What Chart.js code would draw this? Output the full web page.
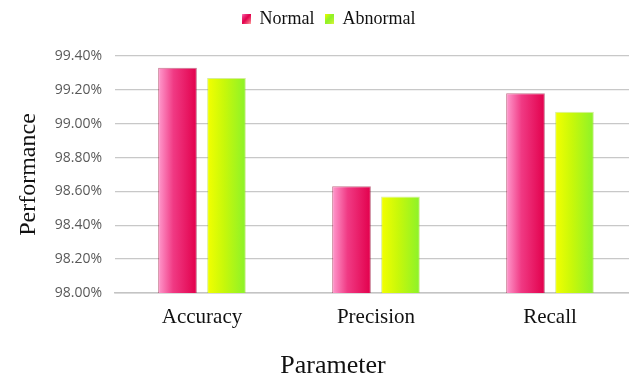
<!DOCTYPE html>
<html>
<head>
<meta charset="utf-8">
<script src="https://cdn.jsdelivr.net/npm/chart.js@4/dist/chart.umd.min.js"></script>
<style>
  html, body { margin: 0; padding: 0; background: #fff; overflow: hidden; }
  #wrap { width: 660px; height: 381px; }
</style>
</head>
<body>
<div id="wrap"><canvas id="chart" width="660" height="381"></canvas></div>
<script>
// Performance of the classifier per parameter, in percent
const categories = ['Accuracy', 'Precision', 'Recall'];
const normalValues = [99.33, 98.63, 99.18];
const abnormalValues = [99.27, 98.57, 99.07];
const seriesNames = ['Normal', 'Abnormal'];
const yMin = 98.0;
const yMax = 99.4;
const yStep = 0.2;

// Colour stops for the diagonal bar fills
const pinkStops = [[0, '#ff9ccf'], [0.2, '#f03a84'], [0.5, '#e2004c'], [0.8, '#f0577a'], [1, '#ffaaa0']];
const greenStops = [[0, '#f4ff00'], [0.22, '#c8f80a'], [0.5, '#8cf22a'], [0.78, '#b2f22c'], [1, '#dcf540']];

function diagGradient(ctx, left, top, w, h, stops) {
  // isolines run along the top-right to bottom-left diagonal
  const k = (2 * w * h) / (h * h + w * w);
  const g = ctx.createLinearGradient(left, top, left + h * k, top + w * k);
  stops.forEach(([o, c]) => g.addColorStop(o, c));
  return g;
}

function legendSwatch(stops) {
  const c = document.createElement('canvas');
  c.width = 9; c.height = 10;
  const cx = c.getContext('2d');
  cx.fillStyle = diagGradient(cx, 0, 0, 9, 10, stops);
  cx.fillRect(0, 0, 9, 10);
  return c;
}

const barFills = {
  id: 'barFills',
  beforeDatasetsDraw(chart) {
    const ctx = chart.ctx;
    chart.data.datasets.forEach((ds, di) => {
      const meta = chart.getDatasetMeta(di);
      const stops = di === 0 ? pinkStops : greenStops;
      meta.data.forEach(el => {
        const left = el.x - el.width / 2;
        const top = Math.min(el.y, el.base);
        const h = Math.abs(el.base - el.y);
        el.options = Object.assign({}, el.options, {
          backgroundColor: diagGradient(ctx, left, top, el.width, h, stops)
        });
      });
    });
  }
};

// Extra room between the legend row and the plot, and a small shift of the legend row
const legendGap = {
  id: 'legendGap',
  afterInit(chart) {
    const legend = chart.legend;
    if (!legend) return;
    const fit = legend.fit;
    legend.fit = function () {
      fit.call(this);
      this.height += 18;
    };
    const draw = legend.draw;
    legend.draw = function () {
      const ctx = this.ctx;
      ctx.save();
      ctx.translate(10, 0);
      draw.call(this);
      ctx.restore();
    };
  }
};

const xTitle = {
  id: 'xTitle',
  afterDraw(chart) {
    const ctx = chart.ctx;
    ctx.save();
    ctx.font = '26px "Liberation Serif"';
    ctx.fillStyle = '#111';
    ctx.textAlign = 'center';
    ctx.textBaseline = 'middle';
    ctx.fillText('Parameter', 333, 366);
    ctx.restore();
  }
};

new Chart(document.getElementById('chart'), {
  type: 'bar',
  data: {
    labels: categories,
    datasets: [
      {
        label: seriesNames[0],
        data: normalValues,
        backgroundColor: () => '#e2004c',
        borderColor: 'rgba(150,0,45,0.55)',
        borderWidth: 1,
        pointStyle: legendSwatch(pinkStops)
      },
      {
        label: seriesNames[1],
        data: abnormalValues,
        backgroundColor: () => '#8cf22a',
        borderColor: 'rgba(150,210,0,0.4)',
        borderWidth: 1,
        pointStyle: legendSwatch(greenStops)
      }
    ]
  },
  options: {
    responsive: false,
    animation: false,
    events: [],
    categoryPercentage: 0.563,
    barPercentage: 0.79,
    layout: { padding: { top: 0, right: 23, left: 0, bottom: 0 } },
    plugins: {
      tooltip: { enabled: false },
      legend: {
        position: 'top',
        labels: {
          usePointStyle: true,
          boxWidth: 9,
          boxHeight: 10,
          padding: 10,
          color: '#111',
          font: { family: 'Liberation Serif', size: 18 }
        }
      }
    },
    scales: {
      x: {
        grid: { display: false, drawTicks: false },
        border: { color: '#c4c4c4', width: 1.5 },
        ticks: {
          color: '#111',
          padding: 12,
          font: { family: 'Liberation Serif', size: 21 }
        },
        afterFit: s => { s.height = 88; }
      },
      y: {
        min: yMin,
        max: yMax,
        grid: { color: '#c8c8c8', lineWidth: 1.3, drawTicks: false },
        border: { display: false },
        ticks: {
          stepSize: yStep,
          padding: 13,
          color: '#595959',
          font: { family: 'Open Sans', size: 14 },
          callback: v => v.toFixed(2) + '%'
        },
        title: {
          display: true,
          text: 'Performance',
          color: '#111',
          padding: { top: 14, bottom: 0 },
          font: { family: 'Liberation Serif', size: 24 }
        },
        afterFit: s => { s.width = 115; }
      }
    }
  },
  plugins: [barFills, legendGap, xTitle]
});
</script>
</body>
</html>
